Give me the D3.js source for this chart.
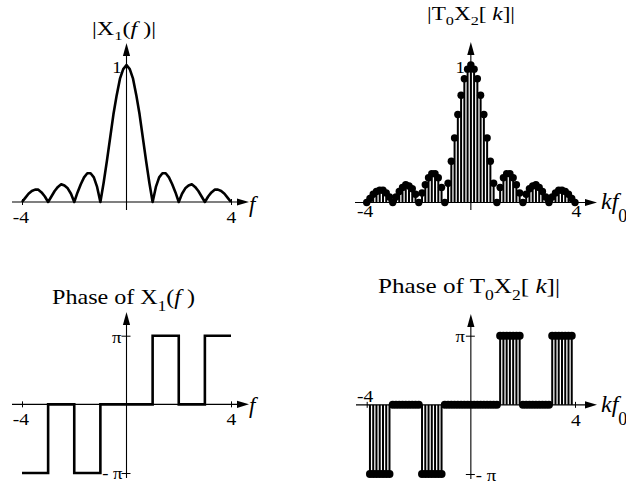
<!DOCTYPE html>
<html>
<head>
<meta charset="utf-8">
<script src="https://cdn.jsdelivr.net/npm/d3@7"></script>
<style>
  html, body { margin: 0; padding: 0; background: #fff; }
  svg { display: block; }
</style>
</head>
<body>
<svg id="chart" width="626" height="484"></svg>
<script>
// harmonic number k, spectrum sampled at k*f0 (f0 = 1/8)
const F0 = 0.125;
const HARMONICS = [
  -32, -31, -30, -29, -28, -27, -26, -25, -24, -23, -22, -21, -20, -19, -18, -17,
  -16, -15, -14, -13, -12, -11, -10, -9, -8, -7, -6, -5, -4, -3, -2, -1,
  0, 1, 2, 3, 4, 5, 6, 7, 8, 9, 10, 11, 12, 13, 14, 15, 16,
  17, 18, 19, 20, 21, 22, 23, 24, 25, 26, 27, 28, 29, 30, 31, 32
];
// |T0 X2[k]| (also traces |X1(f)| at f = k*f0)
const MAGNITUDE = [
  0, 0.03, 0.06, 0.08, 0.09, 0.09, 0.07, 0.04, 0, 0.04, 0.08, 0.11, 0.13, 0.12, 0.10, 0.06,
  0, 0.07, 0.13, 0.18, 0.21, 0.21, 0.18, 0.11, 0, 0.14, 0.30, 0.47, 0.64, 0.78, 0.90, 0.97,
  1, 0.97, 0.90, 0.78, 0.64, 0.47, 0.30, 0.14, 0, 0.11, 0.18, 0.21, 0.21, 0.18, 0.13, 0.07, 0,
  0.06, 0.10, 0.12, 0.13, 0.11, 0.08, 0.04, 0, 0.04, 0.07, 0.09, 0.09, 0.08, 0.06, 0.03, 0
];
// phase of T0 X2[k], in units of pi
const PHASE_HARMONICS = [
  -31, -30, -29, -28, -27, -26, -25, -24, -23, -22, -21, -20, -19, -18, -17, -16,
  -15, -14, -13, -12, -11, -10, -9, -8, -7, -6, -5, -4, -3, -2, -1,
  0, 1, 2, 3, 4, 5, 6, 7, 8, 9, 10, 11, 12, 13, 14, 15,
  16, 17, 18, 19, 20, 21, 22, 23, 24, 25, 26, 27, 28, 29, 30, 31
];
const PHASE = [
  -1, -1, -1, -1, -1, -1, -1, 0, 0, 0, 0, 0, 0, 0, 0, 0,
  -1, -1, -1, -1, -1, -1, -1, 0, 0, 0, 0, 0, 0, 0, 0,
  0, 0, 0, 0, 0, 0, 0, 0, 0, 1, 1, 1, 1, 1, 1, 1,
  0, 0, 0, 0, 0, 0, 0, 0, 0, 1, 1, 1, 1, 1, 1, 1
];
// phase of X1(f): value (units of pi) holding from each break to the next
const STEP_F     = [-4, -3, -2, -1, 1, 2, 3, 4];
const STEP_PHASE = [-1,  0, -1,  0, 1, 0, 1, 1];

const X_TICKS = [-4, 4];

(function () {
  'use strict';

  const SERIF = "'Liberation Serif', 'Times New Roman', serif";
  const svg = d3.select('#chart');

  // ---- helpers ---------------------------------------------------------
  function richText(parent, parts, o) {
    const t = parent.append('text')
      .attr('font-family', SERIF)
      .attr('font-size', o.size)
      .attr('text-anchor', o.anchor || 'middle')
      .style('white-space', 'pre');
    let shift = 0;
    parts.forEach(p => {
      const target = p.sub ? (o.subDy || Math.round(o.size * 0.3)) : 0;
      t.append('tspan')
        .attr('dy', target - shift)
        .attr('font-size', p.sub ? o.size * (o.subScale || 0.7) : null)
        .attr('font-style', p.it ? 'italic' : null)
        .text(p.t);
      shift = target;
    });
    let sx = o.stretch || 1;
    if (o.width) sx = o.width / t.node().getBBox().width;
    t.attr('transform', `translate(${o.x},${o.y}) scale(${sx},1)`);
    return t;
  }

  function drawFrame(g, x, y, o) {
    const y0 = y(0), x0 = x(0);
    g.append('line')
      .attr('x1', o.left).attr('x2', o.right - 8)
      .attr('y1', y0).attr('y2', y0)
      .attr('stroke', '#000').attr('stroke-width', 1.1);
    g.append('path')
      .attr('d', `M${o.right},${y0}L${o.right - 12},${y0 - 3.6}L${o.right - 12},${y0 + 3.6}Z`)
      .attr('fill', '#000');
    g.append('line')
      .attr('x1', x0).attr('x2', x0)
      .attr('y1', o.bottom).attr('y2', o.top + 8)
      .attr('stroke', '#000').attr('stroke-width', 1.1);
    g.append('path')
      .attr('d', `M${x0},${o.top}L${x0 - 3.6},${o.top + 13}L${x0 + 3.6},${o.top + 13}Z`)
      .attr('fill', '#000');
  }

  function xTicks(g, x, y, labelPos) {
    const ax = g.append('g')
      .attr('transform', `translate(0,${y(0)})`)
      .call(d3.axisBottom(x).tickValues(X_TICKS).tickSize(0).tickFormat(d => String(d)));
    ax.select('.domain').remove();
    ax.selectAll('.tick line')
      .attr('y1', -3).attr('y2', 3)
      .attr('stroke', '#000').attr('stroke-width', 1);
    ax.selectAll('.tick text')
      .attr('fill', '#000')
      .attr('font-family', SERIF)
      .attr('font-size', 17)
      .attr('y', 0).attr('dy', null)
      .attr('transform', (d, i) => `translate(${labelPos[i][0]},${labelPos[i][1]}) scale(1.15,1)`);
  }

  function yTicks(g, x, y, ticks, showLine) {
    const ax = g.append('g')
      .attr('transform', `translate(${x(0)},0)`)
      .call(d3.axisLeft(y).tickValues(ticks.map(t => t.v)).tickSize(0)
        .tickFormat((d, i) => ticks[i].label));
    ax.select('.domain').remove();
    ax.selectAll('.tick line')
      .attr('x1', -5).attr('x2', 4)
      .attr('stroke', showLine ? '#000' : 'none').attr('stroke-width', 1);
    ax.selectAll('.tick text')
      .attr('fill', '#000')
      .attr('font-family', SERIF)
      .attr('font-size', 17)
      .style('white-space', 'pre')
      .attr('x', 0).attr('dy', null)
      .attr('text-anchor', (d, i) => ticks[i].anchor || 'end')
      .attr('transform', (d, i) => `translate(${ticks[i].dx},${ticks[i].dy}) scale(1.1,1)`);
  }

  const magData = HARMONICS.map((k, i) => ({ k, v: MAGNITUDE[i] }));
  const phaseData = PHASE_HARMONICS.map((k, i) => ({ k, v: PHASE[i] }));
  const stepData = STEP_F.map((f, i) => ({ f, v: STEP_PHASE[i] }));

  // ---- top left: |X1(f)| ----------------------------------------------
  {
    const g = svg.append('g');
    const x = d3.scaleLinear().domain([-4, 4]).range([22, 231]);
    const y = d3.scaleLinear().domain([0, 1]).range([202, 65]);
    drawFrame(g, x, y, { left: 12, right: 249, bottom: 210, top: 43 });
    xTicks(g, x, y, [[-1.5, 21], [0, 21]]);
    yTicks(g, x, y, [{ v: 1, label: '1', dx: -5, dy: 7 }], false);

    g.append('path')
      .datum(magData)
      .attr('fill', 'none')
      .attr('stroke', '#000')
      .attr('stroke-width', 2.6)
      .attr('stroke-linejoin', 'round')
      .attr('d', d3.line().x(d => x(d.k * F0)).y(d => y(d.v)));

    richText(g, [{ t: '|X' }, { t: '1', sub: true }, { t: '(' }, { t: 'f', it: true }, { t: ' )|' }],
      { size: 18, x: 124, y: 35, width: 64 });
    richText(g, [{ t: 'f', it: true }], { size: 23, x: 249, y: 212, anchor: 'start' });
  }

  // ---- top right: |T0 X2[k]| ------------------------------------------
  {
    const g = svg.append('g');
    const x = d3.scaleLinear().domain([-4, 4]).range([366.7, 575]);
    const y = d3.scaleLinear().domain([0, 1]).range([202.5, 65]);
    drawFrame(g, x, y, { left: 355, right: 597, bottom: 210, top: 42 });
    xTicks(g, x, y, [[-2, 14], [1, 14]]);
    yTicks(g, x, y, [{ v: 1, label: '1', dx: -6, dy: 7 }], false);

    g.selectAll('line.stem')
      .data(magData)
      .join('line')
      .attr('class', 'stem')
      .attr('x1', d => x(d.k * F0)).attr('x2', d => x(d.k * F0))
      .attr('y1', y(0)).attr('y2', d => y(d.v))
      .attr('stroke', '#000').attr('stroke-width', 2);
    g.selectAll('circle.dot')
      .data(magData)
      .join('circle')
      .attr('class', 'dot')
      .attr('cx', d => x(d.k * F0)).attr('cy', d => y(d.v))
      .attr('r', 3.7)
      .attr('fill', '#000');

    richText(g, [{ t: '|T' }, { t: '0', sub: true }, { t: 'X' }, { t: '2', sub: true },
      { t: '[ ' }, { t: 'k', it: true }, { t: ']|' }],
      { size: 18, x: 471, y: 20, width: 88 });
    richText(g, [{ t: 'kf', it: true }, { t: '0', sub: true }],
      { size: 24, x: 601, y: 209, anchor: 'start', subDy: 13, subScale: 0.75 });
  }

  // ---- bottom left: phase of X1(f) ------------------------------------
  {
    const g = svg.append('g');
    const x = d3.scaleLinear().domain([-4, 4]).range([22, 231]);
    const y = d3.scaleLinear().domain([-1, 1]).range([473, 335.7]);
    drawFrame(g, x, y, { left: 12, right: 249, bottom: 478, top: 312 });
    xTicks(g, x, y, [[-1.5, 21], [0, 21]]);
    yTicks(g, x, y, [
      { v: 1, label: 'π', dx: -5, dy: 6.5 },
      { v: -1, label: '- π', dx: -4, dy: 5 }
    ], true);

    g.append('path')
      .datum(stepData)
      .attr('fill', 'none')
      .attr('stroke', '#000')
      .attr('stroke-width', 2.6)
      .attr('d', d3.line().curve(d3.curveStepAfter).x(d => x(d.f)).y(d => y(d.v)));

    richText(g, [{ t: 'Phase of X' }, { t: '1', sub: true }, { t: '(' }, { t: 'f', it: true }, { t: ' )' }],
      { size: 22, x: 123.5, y: 304, width: 143 });
    richText(g, [{ t: 'f', it: true }], { size: 23, x: 249, y: 413, anchor: 'start' });
  }

  // ---- bottom right: phase of T0 X2[k] --------------------------------
  {
    const g = svg.append('g');
    const x = d3.scaleLinear().domain([-4, 4]).range([366.7, 575]);
    const y = d3.scaleLinear().domain([-1, 1]).range([474, 335.7]);
    drawFrame(g, x, y, { left: 356, right: 597, bottom: 479, top: 314 });
    xTicks(g, x, y, [[-2, -3], [0.5, 21]]);
    yTicks(g, x, y, [
      { v: 1, label: 'π', dx: -6, dy: 6 },
      { v: -1, label: '- π', dx: 5, dy: 6, anchor: 'start' }
    ], true);

    g.selectAll('line.stem')
      .data(phaseData.filter(d => d.v !== 0))
      .join('line')
      .attr('class', 'stem')
      .attr('x1', d => x(d.k * F0)).attr('x2', d => x(d.k * F0))
      .attr('y1', y(0)).attr('y2', d => y(d.v))
      .attr('stroke', '#000').attr('stroke-width', 2);
    g.selectAll('circle.dot')
      .data(phaseData)
      .join('circle')
      .attr('class', 'dot')
      .attr('cx', d => x(d.k * F0)).attr('cy', d => y(d.v))
      .attr('r', 4)
      .attr('fill', '#000');

    richText(g, [{ t: 'Phase of T' }, { t: '0', sub: true }, { t: 'X' }, { t: '2', sub: true },
      { t: '[ ' }, { t: 'k', it: true }, { t: ']|' }],
      { size: 22, x: 469, y: 293, width: 182 });
    richText(g, [{ t: 'kf', it: true }, { t: '0', sub: true }],
      { size: 24, x: 601, y: 412, anchor: 'start', subDy: 13, subScale: 0.75 });
  }
})();
</script>
</body>
</html>
